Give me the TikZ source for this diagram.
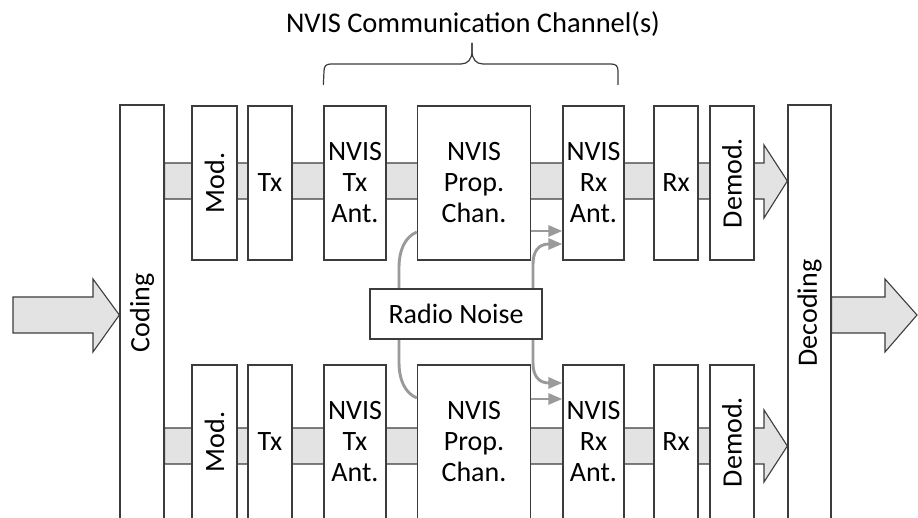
\documentclass[tikz,border=0pt]{standalone}
\usepackage{fontspec}
\setmainfont{Carlito}
\usetikzlibrary{arrows.meta,calc}
\definecolor{bandgray}{HTML}{E3E3E3}
\definecolor{noisegray}{HTML}{9A9A9A}
\definecolor{edge}{HTML}{3C3C3C}
\begin{document}
\begin{tikzpicture}[x=1pt,y=-1pt,
  blk/.style={draw=edge, fill=white, line width=1.3pt, inner sep=0pt, align=center,
    font=\fontsize{28}{31}\selectfont},
  band/.style={draw=edge, fill=bandgray, line width=1.1pt, line join=miter},
  noiseln/.style={draw=noisegray, line width=2.9pt},
  tip/.tip={Triangle[length=14pt,width=11pt]},
  bracestyle/.style={draw=edge, line width=1.2pt}
  ]
\useasboundingbox (0,0) rectangle (918,518);
\clip (0,0) rectangle (918,518);

% tall boxes
\node[blk, minimum width=44pt, minimum height=416pt] (coding) at (142,313) {\rotatebox{90}{Coding}};
\node[blk, minimum width=43pt, minimum height=416pt] (decoding) at (809.5,313) {\rotatebox{90}{Decoding}};

% input / output arrows
\draw[band] (13,297) -- (93,297) -- (93,279) -- (coding.west |- 0,315) -- (93,352) -- (93,333) -- (13,333) -- cycle;
\draw[band] (decoding.east |- 0,297) -- (885,297) -- (885,279) -- (917,315) -- (885,352) -- (885,333) -- (decoding.east |- 0,333) -- cycle;

% bands
\draw[band] (coding.east |- 0,163) -- (764,163) -- (764,145) -- (decoding.west |- 0,181) -- (764,218) -- (764,199) -- (coding.east |- 0,199) -- cycle;
\draw[band] (coding.east |- 0,428) -- (764,428) -- (764,410) -- (decoding.west |- 0,446) -- (764,482) -- (764,464) -- (coding.east |- 0,464) -- cycle;

% chain boxes
\foreach \r/\y in {1/183, 2/442}{
  \node[blk, minimum width=45pt, minimum height=154pt] (mod\r) at (214.5,\y) {\rotatebox{90}{Mod.}};
  \node[blk, minimum width=44pt, minimum height=154pt] (tx\r) at (270,\y) {Tx};
  \node[blk, minimum width=62pt, minimum height=154pt] (txant\r) at (355,\y) {NVIS\\Tx\\Ant.};
  \node[blk, minimum width=113pt, minimum height=154pt] (prop\r) at (474,\y) {NVIS\\Prop.\\Chan.};
  \node[blk, minimum width=61pt, minimum height=154pt] (rxant\r) at (593.5,\y) {NVIS\\Rx\\Ant.};
  \node[blk, minimum width=44pt, minimum height=154pt] (rx\r) at (676,\y) {Rx};
  \node[blk, minimum width=44pt, minimum height=154pt] (demod\r) at (732,\y) {\rotatebox{90}{Demod.}};
}

% noise connectors
\draw[noiseln, -{tip}] (prop1.east |- 0,231) -- (rxant1.west |- 0,231);
\draw[noiseln, -{tip}] (prop2.east |- 0,399) -- (rxant2.west |- 0,399);
\draw[noiseln] (prop1.west |- 0,232) .. controls (405,237) and (399,250) .. (399,268)
  -- (399,362) .. controls (399,380) and (405,393) .. (prop2.west |- 0,398);
\draw[noiseln, {tip}-{tip}] (rxant1.west |- 0,244) -- (549,244) .. controls (538,244) and (533,252) .. (533,264)
  -- (533,363) .. controls (533,375) and (538,383) .. (549,383) -- (rxant2.west |- 0,383);

\node[blk, minimum width=172pt, minimum height=50pt] (noise) at (456,314) {Radio Noise};

% title and brace
\node[font=\fontsize{28.5}{32}\selectfont, inner sep=0pt] (title) at (473,24) {NVIS Communication Channel(s)};
\coordinate (bl) at (txant1.west |- 0,85);
\coordinate (br) at (618,85);
\coordinate (bt) at (472,43);
\draw[bracestyle] (bl) -- (324,71) .. controls (324,66) and (326,64) .. (331,64) -- (461,64)
  .. controls (468,64) and (472,59) .. (472,51) -- (bt);
\draw[bracestyle] (bt) -- (472,51) .. controls (472,59) and (476,64) .. (483,64) -- (611,64)
  .. controls (616,64) and (618,66) .. (618,71) -- (br);
\end{tikzpicture}
\end{document}
